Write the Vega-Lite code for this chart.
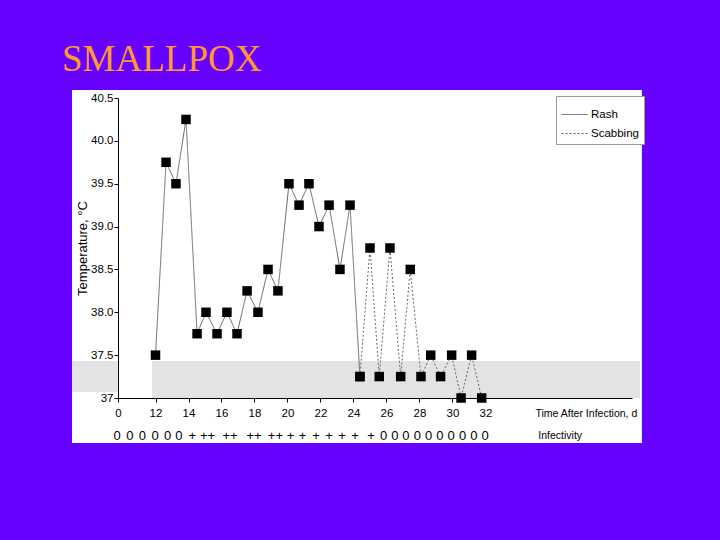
{
  "$schema": "https://vega.github.io/schema/vega-lite/v6.json",
  "width": 514,
  "height": 300,
  "autosize": "none",
  "padding": {"left": 118, "top": 98, "right": 88, "bottom": 142},
  "background": "#6600ff",
  "title": {
    "text": "SMALLPOX",
    "anchor": "start",
    "frame": "group",
    "dx": -56,
    "dy": 37,
    "offset": 19,
    "baseline": "alphabetic",
    "font": "Liberation Serif",
    "fontSize": 37,
    "fontWeight": "normal",
    "color": "#ff9933"
  },
  "config": {
    "view": {"stroke": null},
    "font": "Liberation Sans Narrow, Arial Narrow, Liberation Sans, sans-serif",
    "axis": {
      "grid": false,
      "domainColor": "black",
      "tickColor": "black",
      "labelColor": "black",
      "titleColor": "black",
      "labelFontSize": 11.5,
      "titleFontSize": 13,
      "titleFontWeight": "normal",
      "tickSize": 4
    }
  },
  "datasets": {
    "temps": [
      {"day": 12.0, "temp": 37.5, "stage": "Rash"},
      {"day": 12.64, "temp": 39.75, "stage": "Rash"},
      {"day": 13.24, "temp": 39.5, "stage": "Rash"},
      {"day": 13.85, "temp": 40.25, "stage": "Rash"},
      {"day": 14.52, "temp": 37.75, "stage": "Rash"},
      {"day": 15.06, "temp": 38.0, "stage": "Rash"},
      {"day": 15.73, "temp": 37.75, "stage": "Rash"},
      {"day": 16.33, "temp": 38.0, "stage": "Rash"},
      {"day": 16.94, "temp": 37.75, "stage": "Rash"},
      {"day": 17.55, "temp": 38.25, "stage": "Rash"},
      {"day": 18.21, "temp": 38.0, "stage": "Rash"},
      {"day": 18.82, "temp": 38.5, "stage": "Rash"},
      {"day": 19.42, "temp": 38.25, "stage": "Rash"},
      {"day": 20.09, "temp": 39.5, "stage": "Rash"},
      {"day": 20.70, "temp": 39.25, "stage": "Rash"},
      {"day": 21.30, "temp": 39.5, "stage": "Rash"},
      {"day": 21.91, "temp": 39.0, "stage": "Rash"},
      {"day": 22.52, "temp": 39.25, "stage": "Rash"},
      {"day": 23.18, "temp": 38.5, "stage": "Rash"},
      {"day": 23.79, "temp": 39.25, "stage": "Rash"},
      {"day": 24.39, "temp": 37.25, "stage": "Rash"},
      {"day": 24.39, "temp": 37.25, "stage": "Scabbing"},
      {"day": 25.0, "temp": 38.75, "stage": "Scabbing"},
      {"day": 25.56, "temp": 37.25, "stage": "Scabbing"},
      {"day": 26.21, "temp": 38.75, "stage": "Scabbing"},
      {"day": 26.86, "temp": 37.25, "stage": "Scabbing"},
      {"day": 27.44, "temp": 38.5, "stage": "Scabbing"},
      {"day": 28.09, "temp": 37.25, "stage": "Scabbing"},
      {"day": 28.68, "temp": 37.5, "stage": "Scabbing"},
      {"day": 29.28, "temp": 37.25, "stage": "Scabbing"},
      {"day": 29.95, "temp": 37.5, "stage": "Scabbing"},
      {"day": 30.52, "temp": 37.0, "stage": "Scabbing"},
      {"day": 31.16, "temp": 37.5, "stage": "Scabbing"},
      {"day": 31.77, "temp": 37.0, "stage": "Scabbing"}
    ],
    "infect": [
      {"day": 9.68, "sym": "0"},
      {"day": 10.45, "sym": "0"},
      {"day": 11.2, "sym": "0"},
      {"day": 11.97, "sym": "0"},
      {"day": 12.74, "sym": "0"},
      {"day": 13.42, "sym": "0"},
      {"day": 14.23, "sym": "+"},
      {"day": 15.15, "sym": "++"},
      {"day": 16.52, "sym": "++"},
      {"day": 17.97, "sym": "++"},
      {"day": 19.27, "sym": "++"},
      {"day": 20.18, "sym": "+"},
      {"day": 20.91, "sym": "+"},
      {"day": 21.73, "sym": "+"},
      {"day": 22.52, "sym": "+"},
      {"day": 23.30, "sym": "+"},
      {"day": 24.09, "sym": "+"},
      {"day": 25.06, "sym": "+"},
      {"day": 25.82, "sym": "0"},
      {"day": 26.50, "sym": "0"},
      {"day": 27.18, "sym": "0"},
      {"day": 27.87, "sym": "0"},
      {"day": 28.55, "sym": "0"},
      {"day": 29.24, "sym": "0"},
      {"day": 29.92, "sym": "0"},
      {"day": 30.61, "sym": "0"},
      {"day": 31.29, "sym": "0"},
      {"day": 31.97, "sym": "0"}
    ]
  },
  "layer": [
    {
      "data": {"values": [{}]},
      "mark": {"type": "rect", "color": "white"},
      "encoding": {
        "x": {"datum": 6.94, "type": "quantitative"},
        "x2": {"datum": 41.48},
        "y": {"datum": 36.475, "type": "quantitative"},
        "y2": {"datum": 40.593}
      }
    },
    {
      "data": {"values": [{}]},
      "mark": {"type": "rect", "color": "#e3e3e3"},
      "encoding": {
        "x": {"datum": 11.79, "type": "quantitative"},
        "x2": {"datum": 41.36},
        "y": {"datum": 37.0, "type": "quantitative"},
        "y2": {"datum": 37.432}
      }
    },
    {
      "data": {"values": [{}]},
      "mark": {"type": "rect", "color": "#e3e3e3"},
      "encoding": {
        "x": {"datum": 6.94, "type": "quantitative"},
        "x2": {"datum": 9.70},
        "y": {"datum": 37.07, "type": "quantitative"},
        "y2": {"datum": 37.432}
      }
    },
    {
      "data": {"name": "temps"},
      "mark": {"type": "line", "color": "#666666", "strokeWidth": 1},
      "encoding": {
        "x": {
          "field": "day",
          "type": "quantitative",
          "scale": {"domain": [9.727, 40.88], "nice": false, "zero": false},
          "axis": {
            "zindex": 2,
            "values": [9.727, 12, 14, 16, 18, 20, 22, 24, 26, 28, 30, 32],
            "labelExpr": "datum.value < 11 ? '0' : format(datum.value, 'd')",
            "labelPadding": 5,
            "labelFlush": false,
            "labelOverlap": false,
            "title": "Time After Infection, d",
            "titleFontSize": 10.5,
            "titleX": 417,
            "titleY": 15,
            "titleAlign": "left",
            "titleBaseline": "middle",
            "titleAnchor": null
          }
        },
        "y": {
          "field": "temp",
          "type": "quantitative",
          "scale": {"domain": [37, 40.5], "nice": false, "zero": false},
          "axis": {
            "zindex": 2,
            "values": [37, 37.5, 38, 38.5, 39, 39.5, 40, 40.5],
            "labelExpr": "datum.value == 37 ? '37' : format(datum.value, '.1f')",
            "labelPadding": 1,
            "title": "Temperature, °C",
            "titlePadding": 1
          }
        },
        "strokeDash": {
          "field": "stage",
          "type": "nominal",
          "scale": {"domain": ["Rash", "Scabbing"], "range": [[1, 0], [2, 2]]},
          "legend": {
            "orient": "none",
            "legendX": 438,
            "legendY": -2,
            "title": null,
            "strokeColor": "#9a9a9a",
            "fillColor": "white",
            "padding": 5,
            "symbolType": "stroke",
            "symbolSize": 676,
            "symbolStrokeColor": "#555555",
            "symbolStrokeWidth": 1,
            "labelFontSize": 11.5,
            "labelOffset": 3,
            "labelColor": "black",
            "rowPadding": 0
          }
        }
      }
    },
    {
      "data": {"name": "temps"},
      "mark": {"type": "point", "shape": "square", "filled": true, "color": "black", "opacity": 1, "size": 90},
      "encoding": {
        "x": {"field": "day", "type": "quantitative"},
        "y": {"field": "temp", "type": "quantitative"}
      }
    },
    {
      "data": {"name": "infect"},
      "mark": {"type": "text", "fontSize": 13, "color": "black", "baseline": "middle"},
      "encoding": {
        "x": {"field": "day", "type": "quantitative"},
        "y": {"datum": 36.557, "type": "quantitative"},
        "text": {"field": "sym"}
      }
    },
    {
      "data": {"values": [{}]},
      "mark": {"type": "text", "fontSize": 10.5, "color": "black", "align": "left", "baseline": "middle", "text": "Infectivity"},
      "encoding": {
        "x": {"datum": 35.2, "type": "quantitative"},
        "y": {"datum": 36.557, "type": "quantitative"}
      }
    }
  ]
}
